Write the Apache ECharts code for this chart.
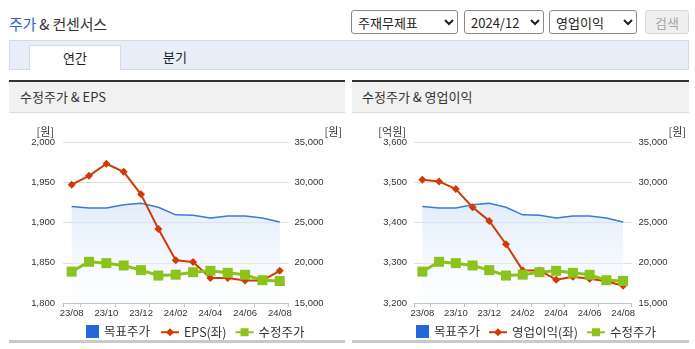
<!DOCTYPE html>
<html>
<head>
<meta charset="utf-8">
<script src="https://cdn.jsdelivr.net/npm/echarts@6/dist/echarts.min.js"></script>
<style>
  html, body { margin: 0; padding: 0; background: #fff; }
  body { width: 695px; height: 349px; position: relative; overflow: hidden;
         font-family: "Noto Sans CJK KR", "Noto Sans", sans-serif; color: #333; }
  .abs { position: absolute; }
  #title { left: 9px; top: 13px; font-size: 15px; line-height: 22px; color: #333; letter-spacing: -0.2px; }
  #title span { color: #2f62d4; }
  select { position: absolute; top: 10px; height: 24px; font-size: 13px; color: #222;
           font-family: "Noto Sans CJK KR", sans-serif; border: 1px solid #8a8a8a;
           border-radius: 3px; background: #fff; padding: 0 2px; }
  #btn { position: absolute; left: 645px; top: 10px; width: 44px; height: 24px;
         font-size: 13px; color: #a8a8a8; background: #efefef; border: 1px solid #d8d8d8;
         border-radius: 3px; font-family: "Noto Sans CJK KR", sans-serif; padding: 0; }
  #tabs { left: 9px; top: 40px; width: 678px; height: 28px; background: #e8eef8;
          border: 1px solid #d3dbe9; }
  .tab { position: absolute; top: 45px; height: 24px; line-height: 24px; text-align: center;
         font-size: 13px; color: #222; }
  #tabOn { left: 29px; width: 90px; height: 24px; background: #fff; border: 1px solid #d3dbe9;
           border-bottom: none; }
  .panel { position: absolute; top: 80px; height: 263px; border-top: 2px solid #333;
           border-bottom: 3px solid #c9c9c9; box-sizing: border-box; }
  .phead { height: 31px; background: #f1f1f1; border-bottom: 1px solid #dcdcdc;
           box-sizing: border-box; font-size: 13px; line-height: 30px; color: #333; }
  .chart { position: absolute; top: 113px; height: 230px; }
</style>
</head>
<body>
<div id="title" class="abs"><span>주가</span> &amp; 컨센서스</div>

<select style="left:351px;width:107px"><option>주재무제표</option></select>
<select style="left:464px;width:80px"><option>2024/12</option></select>
<select style="left:549px;width:88px"><option>영업이익</option></select>
<button id="btn" disabled>검색</button>

<div id="tabs" class="abs"></div>
<div id="tabOn" class="tab">연간</div>
<div class="tab" style="left:145px;width:60px">분기</div>

<div class="panel" style="left:9px;width:336px"><div class="phead" style="padding-left:11px">수정주가 &amp; EPS</div></div>
<div class="panel" style="left:352px;width:337px"><div class="phead" style="padding-left:10px">수정주가 &amp; 영업이익</div></div>

<div id="c1" class="chart" style="left:9px;width:336px"></div>
<div id="c2" class="chart" style="left:352px;width:337px"></div>

<script>
// monthly categories
const months = ['23/08', '23/09', '23/10', '23/11', '23/12', '24/01', '24/02',
                '24/03', '24/04', '24/05', '24/06', '24/07', '24/08'];

// target price (원)
const targetPrice = [27000, 26800, 26800, 27200, 27400, 26900, 25950,
                     25900, 25550, 25800, 25800, 25550, 25050];

// adjusted share price (원)
const adjPrice = [18900, 20120, 19950, 19660, 19080, 18410, 18520,
                  18830, 19000, 18750, 18500, 17830, 17730];

// EPS consensus (원)
const eps = [1947, 1958, 1973, 1963, 1935, 1892, 1853,
             1851, 1831, 1831, 1828, 1828, 1840];

// operating profit consensus (억원)
const opProfit = [3506, 3502, 3483, 3438, 3404, 3346, 3281,
                  3281, 3258, 3265, 3260, 3254, 3243];

// axis ranges
const epsAxis = { min: 1800, max: 2000, interval: 50 };
const opAxis = { min: 3200, max: 3600, interval: 100 };
const priceAxis = { min: 15000, max: 35000, interval: 5000 };

const labelFont = 'Liberation Sans';
const fmt = v => v.toLocaleString('en-US');

function build(el, cfg) {
  const chart = echarts.init(document.getElementById(el), null, { renderer: 'canvas' });
  const axisBlue = '#b7c6dd';
  chart.setOption({
    animation: false,
    grid: { left: cfg.gridLeft, width: cfg.gridWidth, top: 29, height: 161 },
    xAxis: {
      type: 'category',
      data: months,
      boundaryGap: true,
      axisLine: { lineStyle: { color: axisBlue, width: 1 } },
      axisTick: { show: true, length: 4, lineStyle: { color: axisBlue },
                  interval: (i) => i === 0 || i % 2 === 1 },
      axisLabel: { interval: 1, color: '#333', fontSize: 9.5, fontFamily: labelFont, margin: 5 },
      splitLine: { show: false }
    },
    yAxis: [
      {
        type: 'value', position: 'left',
        min: cfg.leftAxis.min, max: cfg.leftAxis.max, interval: cfg.leftAxis.interval,
        name: cfg.leftName, nameLocation: 'end', nameGap: 4,
        nameTextStyle: { align: 'right', padding: [0, cfg.leftNamePad, 0, 0], color: '#333',
                         fontSize: 11, fontFamily: 'Noto Sans CJK KR' },
        axisLine: { show: false }, axisTick: { show: false },
        axisLabel: { color: '#333', fontSize: 9.5, fontFamily: labelFont, margin: cfg.leftMargin,
                     formatter: fmt },
        splitLine: { lineStyle: { color: '#dedede', width: 1 } }
      },
      {
        type: 'value', position: 'right',
        min: priceAxis.min, max: priceAxis.max, interval: priceAxis.interval,
        name: '[원]', nameLocation: 'end', nameGap: 4,
        nameTextStyle: { align: 'left', padding: [0, 0, 0, cfg.rightNamePad], color: '#333',
                         fontSize: 11, fontFamily: 'Noto Sans CJK KR' },
        axisLine: { show: false }, axisTick: { show: false },
        axisLabel: { color: '#333', fontSize: 9.5, fontFamily: labelFont, margin: cfg.rightMargin,
                     formatter: fmt },
        splitLine: { show: false }
      }
    ],
    legend: [
      {
        data: [{ name: '목표주가', icon: 'rect' }],
        left: cfg.legendA, top: 207, itemWidth: 13, itemHeight: 13, itemGap: 8,
        textStyle: { color: '#333', fontSize: 12.5, fontFamily: 'Noto Sans CJK KR' }
      },
      {
        data: [cfg.valueName, '수정주가'],
        left: cfg.legendB, top: 208, itemWidth: 18, itemHeight: 10, itemGap: 8,
        textStyle: { color: '#333', fontSize: 12.5, fontFamily: 'Noto Sans CJK KR' }
      }
    ],
    series: [
      {
        name: '목표주가', type: 'line', yAxisIndex: 1, data: targetPrice,
        symbol: 'none', showSymbol: false,
        itemStyle: { color: '#2068dc' },
        lineStyle: { color: '#3c7ad6', width: 1.5 },
        areaStyle: {
          color: new echarts.graphic.LinearGradient(0, 0, 0, 1, [
            { offset: 0, color: 'rgba(205,224,248,0.85)' },
            { offset: 1, color: 'rgba(255,255,255,0.6)' }
          ])
        },
        z: 1
      },
      {
        name: cfg.valueName, type: 'line', yAxisIndex: 0, data: cfg.values,
        symbol: 'diamond', symbolSize: 8,
        itemStyle: { color: '#cf3a05' },
        lineStyle: { color: '#cf3a05', width: 2 },
        z: 2
      },
      {
        name: '수정주가', type: 'line', yAxisIndex: 1, data: adjPrice,
        symbol: 'rect', symbolSize: 10,
        itemStyle: { color: '#8cc21c' },
        lineStyle: { color: '#8cc21c', width: 3 },
        z: 3
      }
    ]
  });
}

build('c1', {
  gridLeft: 54, gridWidth: 229,
  leftAxis: epsAxis, leftName: '[원]', leftNamePad: 9, rightNamePad: 36,
  leftMargin: 8, rightMargin: 6,
  valueName: 'EPS(좌)', values: eps,
  legendA: 72, legendB: 146
});

build('c2', {
  gridLeft: 62, gridWidth: 221,
  leftAxis: opAxis, leftName: '[억원]', leftNamePad: 8, rightNamePad: 37,
  leftMargin: 7, rightMargin: 7,
  valueName: '영업이익(좌)', values: opProfit,
  legendA: 59, legendB: 131
});
</script>
</body>
</html>
